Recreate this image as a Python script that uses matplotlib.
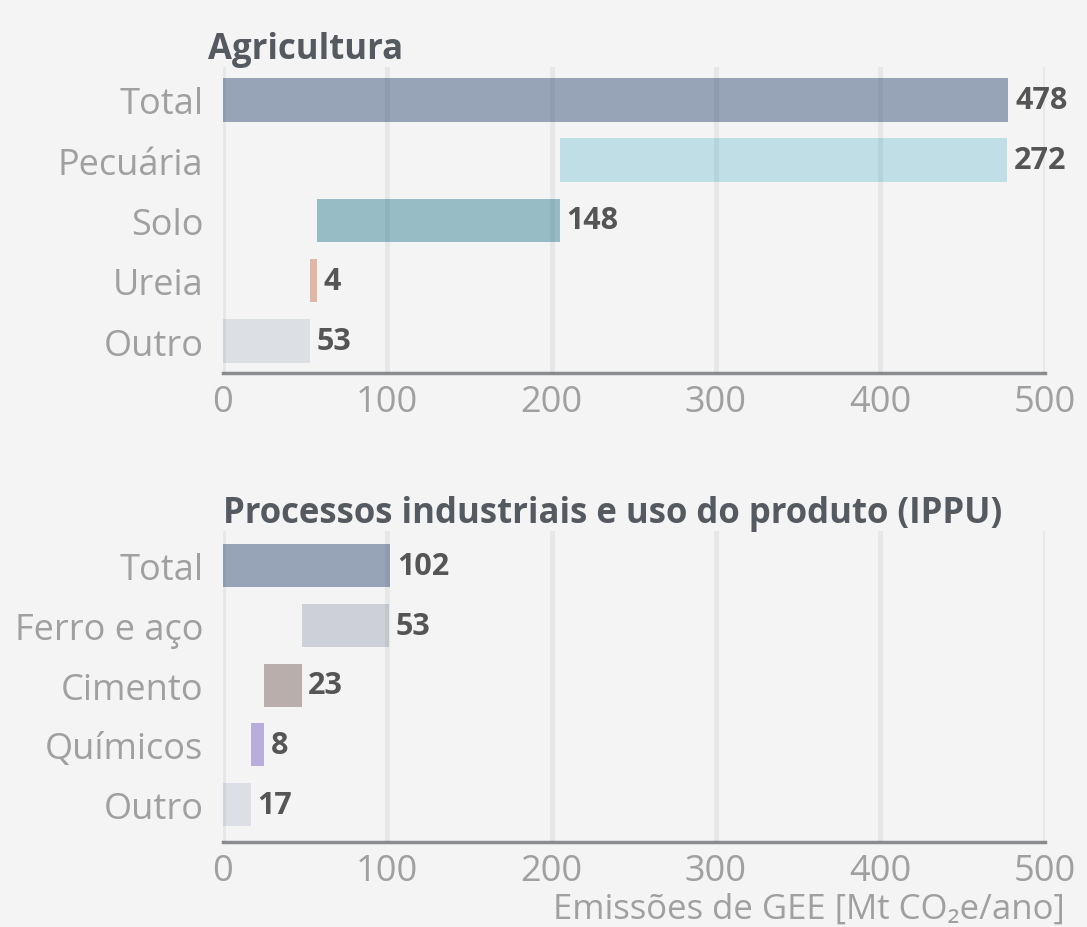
import numpy as np
import matplotlib
matplotlib.use("Agg")
import matplotlib.pyplot as plt

plt.rcParams['font.family'] = ['Open Sans', 'DejaVu Sans']

# -------------------------------
# Data
# -------------------------------
agri_labels = ["Total", "Pecuária", "Solo", "Ureia", "Outro"]
agri_values = [478, 272, 148, 4, 53]
agri_colors = ["#97a3b6", "#bfdee5", "#97bcc5", "#e0b6a5", "#dcdfe4"]

ippu_labels = ["Total", "Ferro e aço", "Cimento", "Químicos", "Outro"]
ippu_values = [102, 53, 23, 8, 17]
ippu_colors = ["#97a3b6", "#cdd0d6", "#b9aeac", "#b9addb", "#dcdfe5"]

x_ticks = [0, 100, 200, 300, 400, 500]

BG = "#f3f4f3"


def waterfall_starts(values):
    # total starts at 0, parts are stacked from the bottom row upwards
    parts = np.array(values[1:], dtype=float)
    after = np.concatenate([np.cumsum(parts[::-1])[::-1][1:], [0]])
    return np.concatenate([[0], after])


def draw_panel(ax, labels, values, colors, title, title_x, ylim):
    starts = waterfall_starts(values)
    y = np.arange(len(labels))
    ax.barh(y, values, left=starts, color=colors, height=0.72, zorder=2)
    for yi, s, v in zip(y, starts, values):
        ax.text(s + v + 4, yi, str(v), va="center", ha="left",
                fontsize=22, fontweight="bold", color="#555555", zorder=4)

    for xt in x_ticks:
        ax.axvline(xt, color="#2a3a50", alpha=0.065, lw=3.5, zorder=3)

    ax.set_xlim(0, 500)
    ax.set_ylim(*ylim)
    ax.set_yticks(y)
    ax.set_yticklabels(labels)
    ax.set_xticks(x_ticks)
    ax.tick_params(axis="both", length=0, labelsize=26, colors="#a0a0a0")
    ax.tick_params(axis="y", pad=14)
    ax.tick_params(axis="x", pad=8)
    for side in ["top", "right", "left"]:
        ax.spines[side].set_visible(False)
    ax.spines["bottom"].set_color("#8a8c90")
    ax.spines["bottom"].set_linewidth(2.5)
    ax.set_facecolor(BG)
    ax.text(title_x, 1.0, title, transform=ax.transAxes, ha="left",
            va="bottom", fontsize=25, fontweight="bold", color="#555a60")


fig = plt.figure(figsize=(10.87, 9.28), dpi=100)
fig.patch.set_facecolor(BG)

ax1 = fig.add_axes([0.205, 0.597, 0.756, 0.330])
draw_panel(ax1, agri_labels, agri_values, agri_colors, "Agricultura",
           -0.018, (4.53, -0.55))

ax2 = fig.add_axes([0.205, 0.092, 0.756, 0.335])
draw_panel(ax2, ippu_labels, ippu_values, ippu_colors,
           "Processos industriais e uso do produto (IPPU)", 0.0, (4.62, -0.59))

fig.text(553 / 1087, 1 - 910 / 928, "Emissões de GEE [Mt CO₂e/ano]",
         ha="left", va="center", fontsize=25, color="#a0a0a0")

fig.savefig("out.png", dpi=100, facecolor=BG)
